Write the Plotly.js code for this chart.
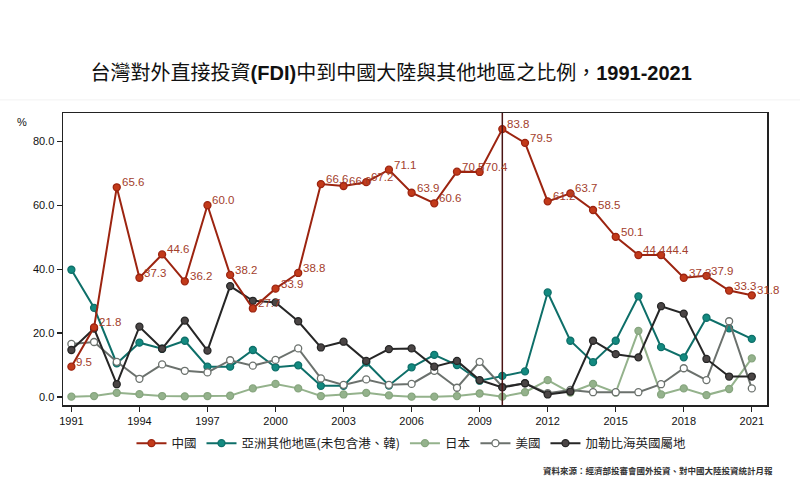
<!DOCTYPE html>
<html>
<head>
<meta charset="utf-8">
<script src="https://cdn.plot.ly/plotly-3.0.1.min.js"></script>
<style>html,body{margin:0;padding:0;background:#fff;}#chart{width:800px;height:503px;}</style>
</head>
<body>
<div id="chart"></div>
<script>
const years = [1991,1992,1993,1994,1995,1996,1997,1998,1999,2000,2001,2002,2003,2004,2005,2006,2007,2008,2009,2010,2011,2012,2013,2014,2015,2016,2017,2018,2019,2020,2021];
const china = [9.5,21.8,65.6,37.3,44.6,36.2,60.0,38.2,27.7,33.9,38.8,66.6,66.0,67.2,71.1,63.9,60.6,70.5,70.4,83.8,79.5,61.2,63.7,58.5,50.1,44.4,44.4,37.3,37.9,33.3,31.8];
const asiaOther = [39.8,27.9,10.5,17.0,15.1,17.6,9.5,9.5,14.7,9.3,9.9,3.5,3.5,10.8,3.6,9.3,13.2,10.0,5.1,6.6,8.0,32.7,17.6,10.9,17.6,31.5,15.6,12.4,24.8,21.5,18.2];
const japan = [0.1,0.3,1.3,0.9,0.3,0.2,0.3,0.4,2.7,4.1,2.7,0.3,0.8,1.3,0.5,0.1,0.1,0.3,1.1,0.1,1.5,5.3,1.4,4.1,1.4,20.7,0.8,2.7,0.6,2.5,12.1];
const usa = [16.6,17.2,11.0,5.7,10.2,8.2,7.7,11.5,9.8,11.6,15.2,5.8,3.8,5.5,3.8,4.1,8.2,2.9,11.0,3.2,4.3,1.2,2.2,1.5,1.5,1.5,4.0,9.0,5.3,23.7,2.7];
const caribbean = [14.7,21.4,4.0,22.0,15.1,23.9,14.5,34.7,30.1,29.6,23.7,15.5,17.3,11.3,15.0,15.2,9.5,11.3,5.3,3.0,4.3,0.8,1.7,17.6,13.4,12.4,28.4,26.1,11.9,6.4,6.4];
const seriesNames = ['中國','亞洲其他地區(未包含港、韓)','日本','美國','加勒比海英國屬地'];
const xTicks = [1991,1994,1997,2000,2003,2006,2009,2012,2015,2018,2021];
const markYear = 2010;

const FONT = 'Liberation Sans, Arial, Noto Sans CJK TC, sans-serif';

function tr(name, y, lineColor, mColor, mLine, rank) {
  return {
    x: years, y: y, name: name, type: 'scatter', mode: 'lines+markers',
    line: {color: lineColor, width: 2},
    marker: {color: mColor, size: 7, line: {color: mLine, width: 1.3}},
    legendrank: rank, hoverinfo: 'skip'
  };
}

const data = [
  tr(seriesNames[1], asiaOther, '#0e6f69', '#138a80', '#0e6f69', 2),
  tr(seriesNames[2], japan, '#94b28c', '#94b28c', '#86a57e', 3),
  tr(seriesNames[3], usa, '#6b716d', '#ffffff', '#6b716d', 4),
  tr(seriesNames[4], caribbean, '#262626', '#4a4545', '#262626', 5),
  tr(seriesNames[0], china, '#9c2410', '#c23a1a', '#9c2410', 1)
];

const annotations = china.map((v, i) => ({
  x: years[i], y: v, xref: 'x', yref: 'y', text: v.toFixed(1), showarrow: false,
  xanchor: 'left', yanchor: 'middle', xshift: 3, yshift: 5,
  font: {family: FONT, size: 11.5, color: '#a3402c'}
}));
annotations.push({
  xref: 'paper', yref: 'paper', x: -0.058, y: 0.97, text: '%', showarrow: false,
  xanchor: 'center', yanchor: 'middle', font: {family: FONT, size: 11, color: '#111'}
});
annotations.push({
  xref: 'paper', yref: 'paper', x: 1.012, y: -0.222, text: '<b>資料來源：經濟部投審會國外投資、對中國大陸投資統計月報</b>', showarrow: false,
  xanchor: 'right', yanchor: 'middle', font: {family: 'Noto Sans CJK TC, sans-serif', size: 8.5, color: '#333'}
});

const layout = {
  width: 800, height: 503,
  paper_bgcolor: '#ffffff', plot_bgcolor: '#ffffff',
  margin: {l: 63, r: 33, t: 113, b: 98},
  title: {
    text: '台灣對外直接投資<b>(FDI)</b>中到中國大陸與其他地區之比例，<b>1991-2021</b>',
    font: {family: 'Liberation Sans, Noto Sans CJK TC, sans-serif', size: 20, color: '#111'},
    x: 0.489, xanchor: 'center', y: 0.855, yanchor: 'middle', yref: 'container'
  },
  xaxis: {
    range: [1990.63, 2021.67], tickvals: xTicks, ticktext: xTicks.map(String),
    showgrid: false, zeroline: false, showline: true, linecolor: '#222', linewidth: 1.5, mirror: true,
    ticks: 'outside', ticklen: 5, tickcolor: '#222', tickwidth: 1.2,
    tickfont: {family: FONT, size: 11, color: '#111'}
  },
  yaxis: {
    range: [-2.5, 88.84], tickvals: [0, 20, 40, 60, 80], tickformat: '.1f',
    showgrid: false, zeroline: false, showline: true, linecolor: '#222', linewidth: 1.5, mirror: true,
    ticks: 'outside', ticklen: 5, tickcolor: '#222', tickwidth: 1.2,
    tickfont: {family: FONT, size: 11, color: '#111'}
  },
  shapes: [{
    type: 'line', xref: 'x', yref: 'paper', x0: markYear, x1: markYear, y0: 0, y1: 1,
    line: {color: '#4a1414', width: 1.5}
  }, {
    type: 'line', xref: 'paper', yref: 'paper', x0: -0.09, x1: 1.05, y0: 1.045, y1: 1.045,
    line: {color: '#f2f2f2', width: 1}
  }],
  legend: {
    orientation: 'h', x: 0.495, xanchor: 'center', y: -0.132, yanchor: 'middle',
    font: {family: 'Noto Sans CJK TC, sans-serif', size: 12.5, color: '#222'},
    itemwidth: 30, traceorder: 'normal'
  },
  annotations: annotations,
  showlegend: true
};

Plotly.newPlot('chart', data, layout, {displayModeBar: false, staticPlot: true});
</script>
</body>
</html>
